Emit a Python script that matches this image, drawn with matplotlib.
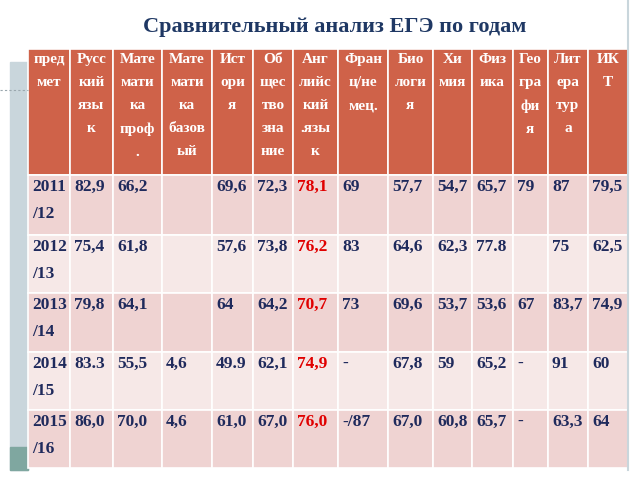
import matplotlib
matplotlib.use("Agg")
import matplotlib.pyplot as plt
from matplotlib.patches import Rectangle

title = "Сравнительный анализ ЕГЭ по годам"
headers = ["пред\nмет", "Русс\nкий\nязы\nк", "Мате\nмати\nка\nпроф\n.", "Мате\nмати\nка\nбазов\nый",
           "Ист\nори\nя", "Об\nщес\nтво\nзна\nние", "Анг\nлийс\nкий\n.язы\nк", "Фран\nц/не\nмец.",
           "Био\nлоги\nя", "Хи\nмия", "Физ\nика", "Гео\nгра\nфи\nя", "Лит\nера\nтур\nа", "ИК\nТ"]
years = ["2011\n/12", "2012\n/13", "2013\n/14", "2014\n/15", "2015\n/16"]
russian = ["82,9", "75,4", "79,8", "83.3", "86,0"]
math_prof = ["66,2", "61,8", "64,1", "55,5", "70,0"]
math_base = ["", "", "", "4,6", "4,6"]
history = ["69,6", "57,6", "64", "49.9", "61,0"]
social = ["72,3", "73,8", "64,2", "62,1", "67,0"]
english = ["78,1", "76,2", "70,7", "74,9", "76,0"]
french = ["69", "83", "73", "-", "-/87"]
biology = ["57,7", "64,6", "69,6", "67,8", "67,0"]
chemistry = ["54,7", "62,3", "53,7", "59", "60,8"]
physics = ["65,7", "77.8", "53,6", "65,2", "65,7"]
geography = ["79", "", "67", "-", "-"]
literature = ["87", "75", "83,7", "91", "63,3"]
ict = ["79,5", "62,5", "74,9", "60", "64"]
columns = [years, russian, math_prof, math_base, history, social, english, french,
           biology, chemistry, physics, geography, literature, ict]

xb = [28, 70, 113, 162, 212, 253, 293, 338, 388, 433, 472, 513, 548, 588, 628]
yb = [49, 175, 235, 293, 352, 410, 468]

fig = plt.figure(figsize=(6.4, 4.8), dpi=100)
ax = fig.add_axes([0, 0, 1, 1])
ax.set_xlim(0, 640); ax.set_ylim(480, 0); ax.axis("off")

ax.add_patch(Rectangle((10, 62), 18, 408, color="#C9D6DC", zorder=0))
ax.add_patch(Rectangle((10, 447), 18, 23, color="#7FA7A0", zorder=1))
ax.plot([0, 28], [90, 90], ls=(0, (2, 2)), color="#9AA7AE", lw=0.8)
ax.plot([628, 628], [0, 470], color="#C9D6DC", lw=1.5)

ax.text(335, 27, title, ha="center", va="center", fontsize=16, fontweight="bold",
        family="Liberation Serif", color="#1F3864")

for j in range(14):
    x0, x1 = xb[j], xb[j + 1]
    ax.add_patch(Rectangle((x0, yb[0]), x1 - x0, yb[1] - yb[0], facecolor="#CF6249",
                           edgecolor="white", lw=1.2))
    ax.text((x0 + x1) / 2, yb[0] + 4, headers[j], ha="center", va="top", fontsize=11,
            fontweight="bold", family="Liberation Serif", color="white", linespacing=2.0)
    for i in range(5):
        y0, y1 = yb[i + 1], yb[i + 2]
        fc = "#EFD3D2" if i % 2 == 0 else "#F6E8E7"
        ax.add_patch(Rectangle((x0, y0), x1 - x0, y1 - y0, facecolor=fc, edgecolor="white", lw=1.2))
        col = "#E00000" if j == 6 else "#1F2A5C"
        ax.text(x0 + 4, y0 + 4, columns[j][i], ha="left", va="top", fontsize=12.5,
                fontweight="bold", family="Liberation Serif", color=col, linespacing=1.9)

fig.savefig("out.png", dpi=100)
